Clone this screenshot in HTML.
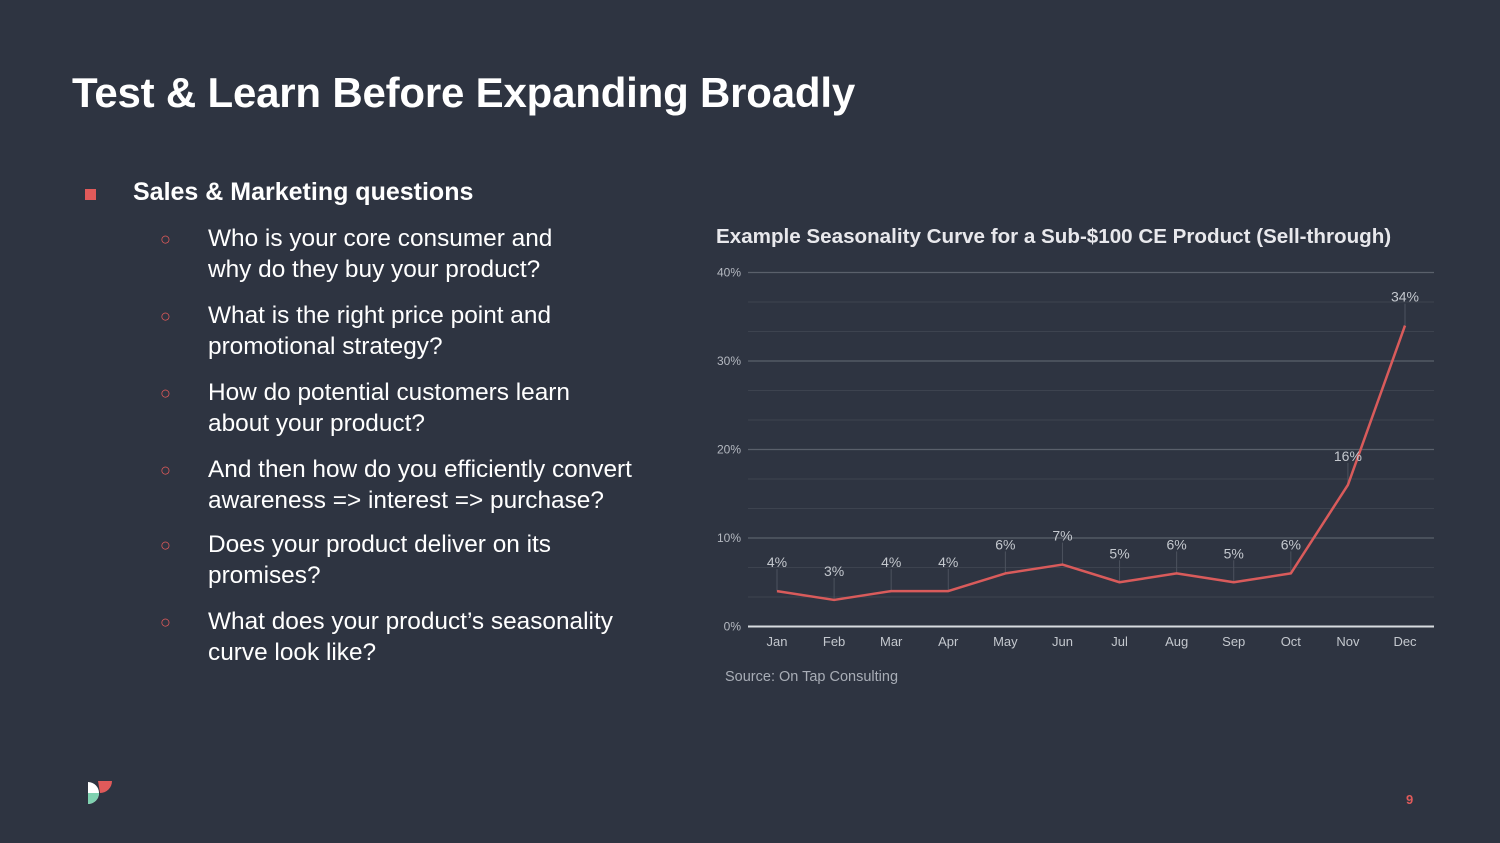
<!DOCTYPE html>
<html><head><meta charset="utf-8">
<style>
html,body{margin:0;padding:0;}
body{width:1500px;height:843px;background:#2e3441;position:relative;overflow:hidden;font-family:"Liberation Sans",Arial,sans-serif;color:#fff;}
.title{position:absolute;left:72px;top:69px;font-size:42px;font-weight:bold;letter-spacing:-0.2px;}
.h2{position:absolute;left:133px;top:178px;font-size:25px;font-weight:bold;}
.sq{position:absolute;left:85px;top:189px;width:11px;height:11px;background:#e05a5a;}
.item{position:absolute;left:208px;font-size:24.4px;line-height:31px;color:#fff;}
.bul{position:absolute;left:160px;font-size:18px;color:#e05a5a;}
.ctitle{position:absolute;left:716px;top:225px;font-size:20.6px;font-weight:bold;color:#e8e8ec;}
.src{position:absolute;left:725px;top:669px;font-size:14.5px;color:#a8adb6;}
.pg{position:absolute;left:1406px;top:792px;font-size:13px;font-weight:bold;color:#e05a5a;}
</style></head><body>
<div class="title">Test &amp; Learn Before Expanding Broadly</div>
<div class="sq"></div>
<div class="h2">Sales &amp; Marketing questions</div>

<div class="bul" style="top:229px">○</div>
<div class="item" style="top:223px">Who is your core consumer and<br>why do they buy your product?</div>
<div class="bul" style="top:306px">○</div>
<div class="item" style="top:300px">What is the right price point and<br>promotional strategy?</div>
<div class="bul" style="top:383px">○</div>
<div class="item" style="top:377px">How do potential customers learn<br>about your product?</div>
<div class="bul" style="top:460px">○</div>
<div class="item" style="top:454px">And then how do you efficiently convert<br>awareness =&gt; interest =&gt; purchase?</div>
<div class="bul" style="top:535px">○</div>
<div class="item" style="top:529px">Does your product deliver on its<br>promises?</div>
<div class="bul" style="top:612px">○</div>
<div class="item" style="top:606px">What does your product’s seasonality<br>curve look like?</div>

<div class="ctitle">Example Seasonality Curve for a Sub-$100 CE Product (Sell-through)</div>
<svg id="chart" width="1500" height="843" style="position:absolute;left:0;top:0"></svg>
<div class="src">Source: On Tap Consulting</div>

<svg style="position:absolute;left:86px;top:780px" width="28" height="26">
<path d="M2 2 L2 24 A11 11 0 0 0 2 2 Z" fill="#fff"/>
<path d="M2 13 L2 24 A11 11 0 0 0 13 13 Z" fill="#7fd1b0"/>
<path d="M12 1 L26 1 A12 12 0 0 1 14 13 Z" fill="#e05a5a"/>
</svg>
<div class="pg">9</div>

<script>
const months = ["Jan","Feb","Mar","Apr","May","Jun","Jul","Aug","Sep","Oct","Nov","Dec"];
const values = [4,3,4,4,6,7,5,6,5,6,16,34];
const yTicks = [0,10,20,30,40];
const yTickLabels = ["0%","10%","20%","30%","40%"];

const svg = document.getElementById('chart');
const NS = 'http://www.w3.org/2000/svg';
const x0 = 748, x1 = 1434, y0 = 626.5, y1 = 272.5, yMax = 40;
const step = (1405 - 777) / 11;
function xs(i){ return 777 + i * step; }
function ys(v){ return y0 - (v / yMax) * (y0 - y1); }
function mk(tag, attrs){ const e = document.createElementNS(NS, tag); for (const k in attrs) e.setAttribute(k, attrs[k]); svg.appendChild(e); return e; }

for (let k = 1; k < 12; k++) {
  if (k % 3 === 0) continue;
  const v = k * 10 / 3;
  const l = mk('line', {x1:x0, x2:x1, y1:ys(v), y2:ys(v), stroke:'#3d434f', 'stroke-width':1});
  
  
}
yTicks.forEach((t, i) => {
  const l = mk('line', {x1:x0, x2:x1, y1:ys(t), y2:ys(t), stroke: t === 0 ? '#d8dbe0' : '#5a606b', 'stroke-width': t === 0 ? 2 : 1.2});
  
  
  const tx = mk('text', {x:741, y:ys(t) + 4, 'text-anchor':'end', 'font-size':12, fill:'#b4b8c0'});
  tx.textContent = yTickLabels[i];
  
  
});
months.forEach((m, i) => {
  const tx = mk('text', {x:xs(i), y:646, 'text-anchor':'middle', 'font-size':13, fill:'#c4c8ce'});
  tx.textContent = m;
  
  
});
values.forEach((v, i) => {
  const ld = mk('line', {x1:xs(i), x2:xs(i), y1:ys(v) - 22, y2:ys(v), stroke:'#4c525e', 'stroke-width':1});
  
  
});
const pts = values.map((v, i) => xs(i) + ',' + ys(v)).join(' ');
const line = mk('polyline', {points:pts, fill:'none', stroke:'#d95b5b', 'stroke-width':2.5, 'stroke-linejoin':'round'});


values.forEach((v, i) => {
  const tx = mk('text', {x:xs(i), y:ys(v) - 24, 'text-anchor':'middle', 'font-size':14, fill:'#c4c8ce'});
  tx.textContent = v + '%';
  
  
});
</script>
</body></html>
